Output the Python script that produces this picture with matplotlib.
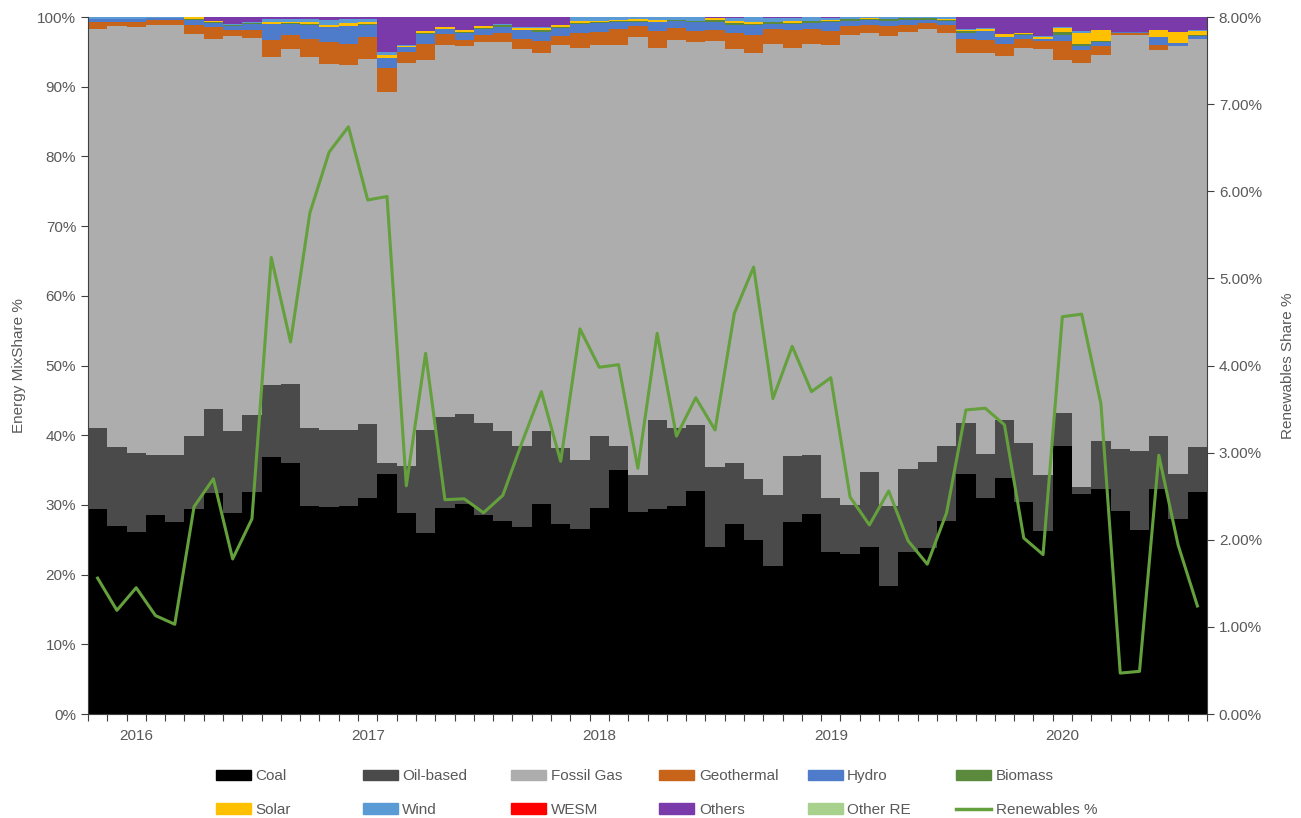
import numpy as np
import pandas as pd
import matplotlib
matplotlib.use('Agg')
from matplotlib import pyplot as plt
from matplotlib.patches import Patch
from matplotlib.lines import Line2D
from matplotlib.ticker import PercentFormatter

plt.rcParams['font.family'] = ['Liberation Sans Narrow', 'Liberation Sans', 'DejaVu Sans']

# monthly data, Nov 2015 - Aug 2020 (energy mix shares, %)
months = pd.date_range('2015-11-01', periods=58, freq='MS')

coal = [29.4, 26.9, 26.1, 28.5, 27.5, 29.4, 31.7, 28.9, 31.8, 36.8,
        36.0, 29.9, 29.6, 29.8, 31.0, 34.3, 28.9, 26.0, 29.5, 30.1,
        28.6, 27.7, 26.9, 30.2, 27.3, 26.5, 29.6, 35.0, 29.0, 29.4,
        29.8, 32.0, 24.0, 27.3, 25.0, 21.2, 27.5, 28.7, 23.3, 23.0,
        23.9, 18.4, 23.2, 23.8, 27.7, 34.5, 31.0, 33.9, 30.4, 26.3,
        38.5, 31.5, 32.3, 29.1, 26.4, 32.3, 28.1, 31.8]
oil = [11.7, 11.4, 11.3, 8.6, 9.6, 10.5, 12.0, 11.7, 11.1, 10.4,
       11.4, 11.2, 11.1, 10.9, 10.6, 1.7, 6.7, 14.7, 13.1, 13.0,
       13.2, 12.9, 11.6, 10.4, 10.8, 9.9, 10.3, 3.5, 5.3, 12.8,
       11.2, 9.4, 11.5, 8.7, 8.7, 10.2, 9.5, 8.5, 7.7, 7.0,
       10.8, 11.4, 12.0, 12.4, 10.8, 7.3, 6.3, 8.3, 8.5, 8.0,
       4.7, 1.1, 6.8, 8.9, 11.3, 7.6, 6.4, 6.5]
gas = [57.2, 60.4, 61.1, 61.6, 61.8, 57.7, 53.1, 56.7, 53.9, 47.0,
       48.0, 53.1, 52.4, 52.4, 52.3, 53.0, 57.8, 53.2, 53.4, 52.7,
       54.6, 55.8, 56.9, 54.2, 57.9, 59.2, 56.1, 57.5, 62.7, 53.4,
       55.6, 54.8, 61.1, 59.4, 61.1, 64.8, 58.6, 59.0, 65.0, 67.4,
       63.0, 67.5, 62.7, 62.1, 59.2, 53.0, 57.6, 52.2, 56.7, 61.1,
       50.7, 60.8, 55.5, 59.4, 59.7, 55.3, 61.5, 58.5]
geothermal = [1.05, 0.57, 0.8, 0.7, 0.67, 1.3, 1.67, 0.85, 1.2, 2.4,
              2.05, 2.6, 3.1, 3.1, 3.1, 3.45, 1.6, 2.3, 1.45, 0.95,
              1.0, 1.25, 1.45, 1.8, 1.3, 2.05, 1.9, 2.3, 1.55, 2.45,
              1.7, 1.65, 1.5, 2.3, 2.6, 2.05, 2.5, 2.05, 2.05, 1.3,
              1.2, 1.45, 0.95, 0.8, 1.2, 2.0, 1.85, 1.8, 1.2, 1.1,
              2.7, 1.8, 1.3, 0.3, 0.25, 0.8, 0.1, 0.0]
hydro = [0.35, 0.38, 0.38, 0.25, 0.25, 0.7, 0.7, 0.67, 0.8, 2.3,
         1.6, 2.05, 2.15, 2.5, 1.8, 1.45, 0.7, 1.35, 0.8, 0.95,
         0.95, 0.95, 1.25, 1.3, 1.1, 1.35, 1.2, 0.95, 0.7, 1.2,
         0.95, 1.2, 1.2, 1.2, 1.45, 0.8, 0.95, 0.95, 1.2, 0.75,
         0.7, 0.7, 0.7, 0.5, 0.55, 0.95, 1.25, 0.95, 0.6, 0.35,
         0.8, 0.7, 0.5, 0.15, 0.2, 1.1, 0.35, 0.45]
biomass = [0, 0, 0, 0, 0, 0.15, 0.05, 0.05, 0.2, 0.05,
           0.05, 0.1, 0.05, 0.05, 0.1, 0.05, 0.05, 0.2, 0.05, 0.1,
           0.1, 0.25, 0.1, 0.2, 0.1, 0.1, 0.25, 0.2, 0.15, 0.05,
           0.15, 0.2, 0.2, 0.2, 0.2, 0.2, 0.1, 0.2, 0.2, 0.2,
           0.15, 0.2, 0.25, 0.25, 0.1, 0.2, 0.05, 0.05, 0.15, 0.05,
           0.5, 0.2, 0.1, 0, 0, 0.05, 0.05, 0.05]
solar = [0, 0, 0, 0, 0, 0.25, 0.15, 0.1, 0, 0.25,
         0.25, 0.3, 0.35, 0.4, 0.3, 0.4, 0.15, 0.25, 0.15, 0.3,
         0.2, 0.05, 0.25, 0.3, 0.3, 0.3, 0.05, 0.05, 0.15, 0.3,
         0.05, 0.05, 0.3, 0.3, 0.3, 0.05, 0.3, 0.05, 0.05, 0.05,
         0.05, 0.05, 0.05, 0.05, 0.15, 0.25, 0.25, 0.3, 0.1, 0.3,
         0.5, 1.6, 1.6, 0, 0, 0.95, 1.55, 0.7]
wind = [0.3, 0.3, 0.3, 0.2, 0.2, 0, 0.1, 0.05, 0.15, 0.4,
        0.4, 0.5, 0.7, 0.6, 0.45, 0.45, 0.1, 0.05, 0.05, 0.1,
        0.05, 0.05, 0.05, 0.1, 0.05, 0.6, 0.6, 0.5, 0.35, 0.4,
        0.4, 0.5, 0.1, 0.5, 0.6, 0.6, 0.35, 0.5, 0.4, 0.25,
        0.15, 0.25, 0.1, 0.1, 0.3, 0.1, 0.1, 0.1, 0.05, 0.05,
        0.1, 0.25, 0.05, 0.05, 0.05, 0.05, 0.05, 0.05]
wesm = [0] * 58
others = [0, 0, 0, 0, 0, 0, 0.5, 1.05, 0.7, 0.35,
          0.25, 0.25, 0.4, 0.25, 0.25, 5.0, 4.05, 1.95, 1.45, 1.8,
          1.3, 1.05, 1.5, 1.5, 1.15, 0, 0, 0, 0, 0,
          0, 0, 0.1, 0.1, 0.05, 0.1, 0.2, 0.05, 0.1, 0.05,
          0.05, 0.05, 0.05, 0, 0, 1.7, 1.6, 2.4, 2.3, 2.75,
          1.5, 2.05, 1.85, 2.1, 2.1, 1.85, 2.1, 1.9]
other_re = [0] * 58

renewables = [1.56, 1.19, 1.45, 1.13, 1.03, 2.38, 2.70, 1.78, 2.24, 5.24,
              4.27, 5.75, 6.45, 6.74, 5.90, 5.94, 2.62, 4.14, 2.46, 2.47,
              2.31, 2.51, 3.12, 3.70, 2.90, 4.42, 3.98, 4.01, 2.82, 4.37,
              3.19, 3.63, 3.26, 4.60, 5.13, 3.62, 4.22, 3.70, 3.86, 2.49,
              2.17, 2.56, 1.99, 1.72, 2.31, 3.49, 3.51, 3.32, 2.02, 1.83,
              4.56, 4.59, 3.56, 0.47, 0.49, 2.97, 1.94, 1.24]

names = ['Coal', 'Oil-based', 'Fossil Gas', 'Geothermal', 'Hydro', 'Biomass',
         'Solar', 'Wind', 'WESM', 'Others', 'Other RE']
series = [coal, oil, gas, geothermal, hydro, biomass, solar, wind, wesm, others, other_re]
colors = ['#000000', '#4A4A4A', '#ADADAD', '#C8641A', '#4E7CCA', '#5B8A3C',
          '#FFC000', '#5B9BD5', '#FF0000', '#7B3AAA', '#A9D18E']
line_color = '#64A03C'

data = np.array(series, dtype=float)
shares = data / data.sum(axis=0)  # 100% stacked
n = data.shape[1]
edges = np.arange(n + 1)

fig = plt.figure(figsize=(13.01, 8.18), dpi=100)
ax = fig.add_axes([0.0676, 0.1271, 0.8602, 0.8521])

bottom = np.zeros(n)
for s, c in zip(shares, colors):
    top = bottom + s
    ax.fill_between(edges, np.append(bottom, bottom[-1]), np.append(top, top[-1]),
                    step='post', color=c, lw=0)
    bottom = top

ax.set_xlim(0, n)
ax.set_ylim(0, 1)
ax.yaxis.set_major_formatter(PercentFormatter(1.0, decimals=0))
ax.set_yticks(np.arange(0, 1.01, 0.1))
ax.set_xticks(edges)
ax.set_xticklabels([])
jan = [i + 0.5 for i, m in enumerate(months) if m.month == 1]
ax.set_xticks(jan, minor=True)
ax.set_xticklabels([str(m.year) for m in months if m.month == 1], minor=True)
ax.tick_params(axis='x', which='major', direction='out', length=5, color='#404040')
ax.tick_params(axis='x', which='minor', length=0, pad=11, labelsize=11, labelcolor='#595959')
ax.tick_params(axis='y', direction='out', length=5, color='#404040', labelsize=11,
               labelcolor='#595959')
ax.set_ylabel('Energy MixShare %', fontsize=11, color='#595959', labelpad=8)
for sp in ['top', 'right']:
    ax.spines[sp].set_visible(False)
for sp in ['left', 'bottom']:
    ax.spines[sp].set_color('#404040')

ax2 = ax.twinx()
ax2.plot(np.arange(n) + 0.5, np.array(renewables) / 100, color=line_color, lw=2.2)
ax2.set_ylim(0, 0.08)
ax2.set_yticks(np.arange(0, 0.0801, 0.01))
ax2.yaxis.set_major_formatter(PercentFormatter(1.0, decimals=2))
ax2.tick_params(axis='y', direction='out', length=5, color='#404040', labelsize=11,
                labelcolor='#595959')
ax2.set_ylabel('Renewables Share %', fontsize=11, color='#595959', labelpad=14)
for sp in ['top', 'left', 'bottom']:
    ax2.spines[sp].set_visible(False)
ax2.spines['right'].set_color('#404040')

# legend, 6 columns x 2 rows
handles = [Patch(color=c, label=nm) for nm, c in zip(names, colors)]
handles.append(Line2D([], [], color=line_color, lw=2.5, label='Renewables %'))
col_x = [0.161, 0.274, 0.388, 0.502, 0.616, 0.730]
for k, x in enumerate(col_x):
    fig.legend(handles=[handles[k], handles[k + 6]], loc='upper left',
               bbox_to_anchor=(x, 0.067), frameon=False, fontsize=11,
               handlelength=2.3, handleheight=0.7, handletextpad=0.3,
               labelspacing=1.3, labelcolor='#595959', borderaxespad=0)

fig.savefig('out.png', dpi=100)
